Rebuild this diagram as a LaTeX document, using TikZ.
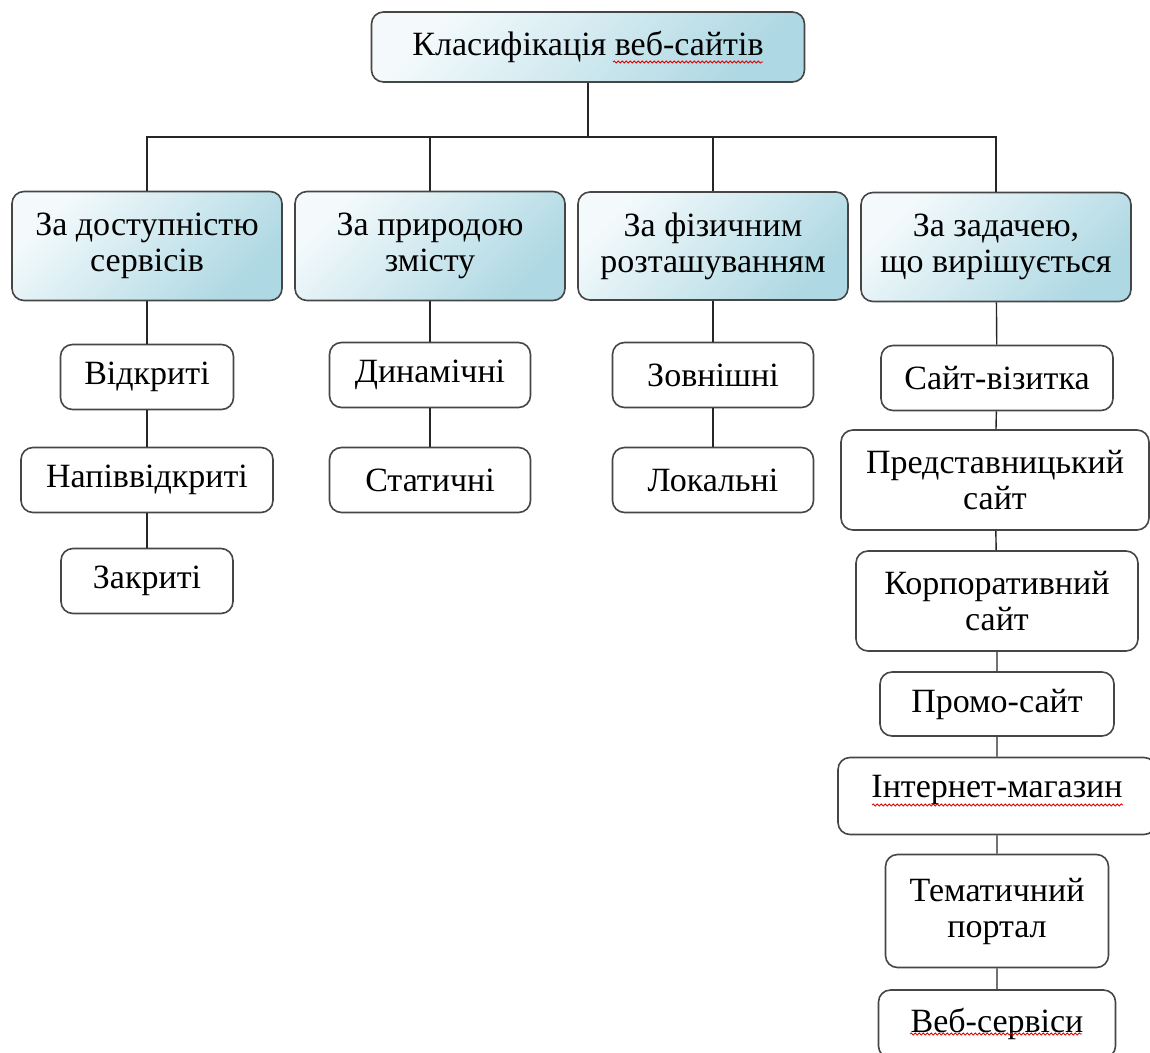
\documentclass[tikz,border=0pt]{standalone}
\usepackage{fontspec}
\setmainfont{Liberation Serif}
\definecolor{boxTop}{RGB}{244,250,252}
\definecolor{boxBottom}{RGB}{174,216,227}
\definecolor{boxLine}{RGB}{70,70,70}
\usetikzlibrary{decorations.pathmorphing}

\begin{document}
\begin{tikzpicture}[x=1pt, y=-1pt,
    box/.style={draw=boxLine, line width=1.6pt, rounded corners=12pt,
      align=center, inner sep=0pt, font=\fontsize{34}{36}\selectfont},
    headbox/.style={box, top color=boxTop, bottom color=boxBottom, shading angle=45},
    leafbox/.style={box, fill=white, minimum height=65pt},
    link/.style={draw=black!85, line width=1.4pt},
    spell/.style={red!85!black, line width=0.8pt, decorate,
      decoration={snake, amplitude=1.1pt, segment length=4pt}}]
  \useasboundingbox (0,0) rectangle (1150,1052);

  % root and categories
  \node[headbox, minimum width=433pt, minimum height=70pt] (root) at (588,47)
    {Класифікація веб-сайтів};
  \node[headbox, minimum width=270pt, minimum height=109pt] (access) at (147,246)
    {За доступністю\\сервісів};
  \node[headbox, minimum width=270pt, minimum height=109pt] (nature) at (430,246)
    {За природою\\змісту};
  \node[headbox, minimum width=270pt, minimum height=108pt] (place) at (713,246)
    {За фізичним\\розташуванням};
  \node[headbox, minimum width=270pt, minimum height=109pt] (task) at (996,247)
    {За задачею,\\що вирішується};

  % leaves
  \node[leafbox, minimum width=173pt] (open) at (147,377) {Відкриті};
  \node[leafbox, minimum width=252pt] (half) at (147,480) {Напіввідкриті};
  \node[leafbox, minimum width=172pt] (closed) at (147,581) {Закриті};

  \node[leafbox, minimum width=201pt] (dynamic) at (430,375) {Динамічні};
  \node[leafbox, minimum width=201pt] (static) at (430,480) {Статичні};

  \node[leafbox, minimum width=201pt] (outer) at (713,375) {Зовнішні};
  \node[leafbox, minimum width=201pt] (local) at (713,480) {Локальні};

  \node[leafbox, minimum width=232pt] (card) at (997,378) {Сайт-візитка};
  \node[leafbox, minimum width=308pt, minimum height=100pt] (agency) at (995,480)
    {Представницький\\сайт};
  \node[leafbox, minimum width=282pt, minimum height=100pt] (corp) at (997,601)
    {Корпоративний\\сайт};
  \node[leafbox, minimum width=234pt, minimum height=64pt] (promo) at (997,704)
    {Промо-сайт};
  \node[leafbox, minimum width=318pt, minimum height=77pt, text depth=20pt] (shop) at (997,796)
    {Інтернет-магазин};
  \node[leafbox, minimum width=223pt, minimum height=113pt] (portal) at (997,911)
    {Тематичний\\портал};
  \node[leafbox, minimum width=237pt, minimum height=68pt] (service) at (997,1024)
    {Веб-сервіси};

  % tree
  \coordinate (bus) at (588,137);
  \draw[link] (root.south) -- (bus);
  \foreach \c in {access, nature, place, task}
    \draw[link] (\c.north) |- (bus);

  \draw[link] (access) -- (open) (open) -- (half) (half) -- (closed);
  \draw[link] (nature) -- (dynamic) (dynamic) -- (static);
  \draw[link] (place) -- (outer) (outer) -- (local);
  \draw[link] (task) -- (card) (card) -- (agency) (agency) -- (corp)
    (corp) -- (promo) (promo) -- (shop) (shop) -- (portal) (portal) -- (service);

  % spell check marks
  \draw[spell] (613,62) -- (763,62);
  \draw[spell] (872,805) -- (1123,805);
  \draw[spell] (910,1034) -- (1082,1034);
\end{tikzpicture}
\end{document}
